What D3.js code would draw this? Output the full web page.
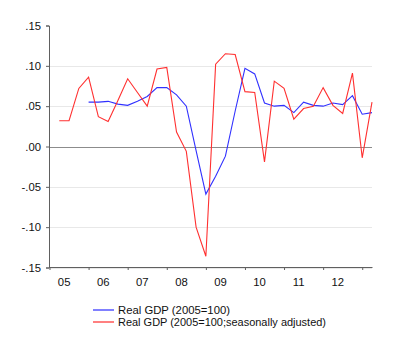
<!DOCTYPE html>
<html><head><meta charset="utf-8">
<script src="https://cdn.jsdelivr.net/npm/d3@7"></script>
<style>html,body{margin:0;padding:0;background:#fff;}svg{display:block;font-family:"Liberation Sans",Arial,sans-serif;}</style>
</head><body><svg id="c" width="400" height="355"></svg>
<script>
const yearLabels = ["05","06","07","08","09","10","11","12"];
const yTicks = [-0.15,-0.10,-0.05,0.00,0.05,0.10,0.15];
const yTickLabels = ["-.15","-.10","-.05",".00",".05",".10",".15"];
// quarter index 0 = 2005Q1
const redStart = 1;
const redValues = [0.032,0.032,0.072,0.086,0.037,0.031,0.057,0.084,0.067,0.050,0.096,0.098,0.018,-0.006,-0.100,-0.136,0.102,0.115,0.114,0.068,0.067,-0.019,0.081,0.072,0.034,0.047,0.050,0.073,0.051,0.041,0.091,-0.014,0.055];
const blueStart = 4;
const blueValues = [0.055,0.055,0.056,0.0525,0.051,0.056,0.062,0.073,0.073,0.064,0.050,-0.005,-0.059,-0.037,-0.012,0.044,0.097,0.090,0.054,0.050,0.051,0.042,0.055,0.051,0.050,0.054,0.052,0.063,0.040,0.042];
const seriesNames = ["Real GDP (2005=100)","Real GDP (2005=100;seasonally adjusted)"];

const svg = d3.select("#c");
const x = d3.scaleLinear().domain([0,33]).range([49.5,372]);
const y = d3.scaleLinear().domain([-0.15,0.15]).range([267.5,25.5]);

// gridlines
svg.append("g").selectAll("line").data(yTicks.filter(v=>Math.abs(v)>1e-9 && v<0.149)).join("line")
  .attr("x1",x(0)).attr("x2",x(33)).attr("y1",d=>Math.round(y(d))+0.5).attr("y2",d=>Math.round(y(d))+0.5)
  .attr("stroke","#e8e8e8").attr("stroke-width",1);
// zero line
svg.append("line").attr("x1",x(0)).attr("x2",x(33)).attr("y1",Math.round(y(0))+0.5).attr("y2",Math.round(y(0))+0.5)
  .attr("stroke","#8c8c8c").attr("stroke-width",1);

// y axis
const yAxis = d3.axisLeft(y).tickValues(yTicks).tickFormat((d,i)=>yTickLabels[i]).tickSize(3).tickPadding(5);
const gy = svg.append("g").attr("transform","translate(49,0)").call(yAxis);
gy.select(".domain").attr("stroke","#606060");
gy.selectAll(".tick line").attr("stroke","#606060");
gy.selectAll("text").attr("font-size","11.3px").attr("fill","#111").attr("font-family","Liberation Sans, Arial, sans-serif");

// x axis
const yearTicks = d3.range(0,33,4);
const xAxis = d3.axisBottom(x).tickValues(yearTicks).tickFormat("").tickSize(3).tickSizeOuter(0);
const gx = svg.append("g").attr("transform","translate(0,267)").call(xAxis);
gx.select(".domain").attr("stroke","#606060");
gx.selectAll(".tick line").attr("stroke","#606060");
svg.append("g").selectAll("text").data(yearLabels).join("text")
  .attr("x",(d,i)=>x(i*4+1.5)).attr("y",286).attr("text-anchor","middle")
  .attr("font-size","11.3px").attr("fill","#111").text(d=>d);

const line = d3.line().x(d=>x(d.i)).y(d=>y(d.v));
const redPts = redValues.map((v,k)=>({i:redStart+k,v}));
const bluePts = blueValues.map((v,k)=>({i:blueStart+k,v}));
svg.append("path").datum(bluePts).attr("d",line).attr("fill","none").attr("stroke","#3030ff").attr("stroke-width",1.1);
svg.append("path").datum(redPts).attr("d",line).attr("fill","none").attr("stroke","#ff3030").attr("stroke-width",1.1);

// legend
const legColors = ["#8080ff","#ff8080"];
const leg = svg.append("g");
seriesNames.forEach((n,i)=>{
  const ly = 310 + i*12;
  leg.append("line").attr("x1",93).attr("x2",114).attr("y1",ly).attr("y2",ly).attr("stroke",legColors[i]).attr("stroke-width",2);
  leg.append("text").attr("x",118).attr("y",ly+4).attr("font-size","11.3px").attr("fill","#111")
    .attr("textLength", i===0?112:208).attr("lengthAdjust","spacingAndGlyphs").text(n);
});
</script></body></html>
